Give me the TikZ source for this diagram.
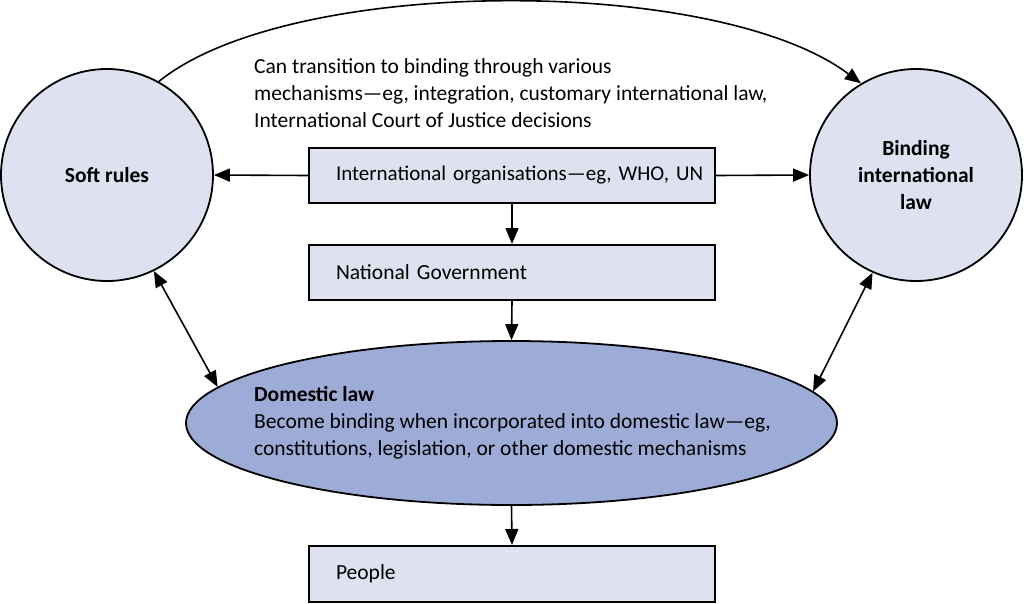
\documentclass[tikz,border=0pt]{standalone}
\usepackage{fontspec}
\setmainfont{Carlito}
\usetikzlibrary{arrows.meta,shapes.geometric}
\definecolor{lightfill}{RGB}{221,225,240}
\definecolor{ellfill}{RGB}{157,172,214}
\begin{document}
\begin{tikzpicture}[x=1pt,y=-1pt,
  every node/.style={font=\fontsize{21.5}{27}\selectfont},
  circ/.style={circle,draw,line width=1.8pt,fill=lightfill,minimum size=212pt,inner sep=0pt,align=center,font=\fontsize{21.5}{27}\selectfont\bfseries},
  boxnode/.style={rectangle,draw,line width=2pt,fill=lightfill,text width=352pt,inner xsep=27pt,minimum height=55pt,align=left,anchor=north west},
  plaintext/.style={anchor=north west,inner sep=0pt,align=left},
  arr/.style={line width=1.6pt,-{Triangle[length=16pt,width=13pt]}},
  darr/.style={line width=1.6pt,{Triangle[length=16pt,width=13pt]}-{Triangle[length=16pt,width=13pt]}}
]
\useasboundingbox (0,0) rectangle (1024,603);
\node[circ] (soft) at (107,175) {Soft rules};
\node[circ] (bind) at (916,175) {Binding\\international\\law};
\node[boxnode,font=\fontsize{21}{27}\selectfont] (io) at (308,147) {\mbox{International organisations—eg, WHO, UN}};
\node[boxnode] (ng) at (308,244) {National Government};
\node[ellipse,draw,line width=1.8pt,fill=ellfill,minimum width=651pt,minimum height=164pt,inner sep=0pt] (dom) at (511.5,423) {};
\node[plaintext] (domtext) at (254,386) {\textbf{Domestic law}\\Become binding when incorporated into domestic law—eg,\\constitutions, legislation, or other domestic mechanisms};
\node[boxnode,minimum height=56pt] (people) at (308,545) {People};
\node[plaintext] (note) at (254,58) {Can transition to binding through various\\mechanisms—eg, integration, customary international law,\\International Court of Justice decisions};
\draw[arr] (io.west) -- (soft.east);
\draw[arr] (io.east) -- (bind.west);
\draw[arr] (io.south) -- (ng.north);
\draw[arr] (ng.south) -- (dom.north);
\draw[arr] (dom.south) -- (people.north);
\draw[darr] (soft.-64.6) -- (dom.173.7);
\draw[darr] (bind.246.7) -- (dom.6.25);
\draw[arr] (soft.61.8) .. controls (290,-25) and (717,-25) .. (bind.121.3);
\end{tikzpicture}
\end{document}
